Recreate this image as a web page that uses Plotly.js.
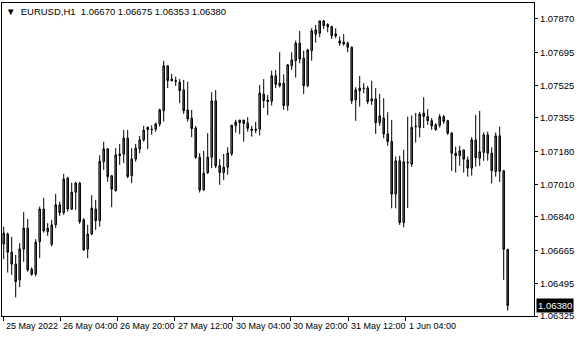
<!DOCTYPE html>
<html><head><meta charset="utf-8">
<script src="https://cdn.plot.ly/plotly-3.0.1.min.js"></script>
<style>html,body{margin:0;padding:0;background:#fff}#chart{width:580px;height:340px}</style>
</head><body><div id="chart"></div>
<script>
const symbolName = 'EURUSD,H1';
const openP = [1.06700,1.06751,1.06657,1.06595,1.06513,1.06673,1.06782,1.06568,1.06543,1.06712,
1.06881,1.06764,1.06698,1.06800,1.06903,1.06863,1.07042,1.06881,1.06969,1.07016,
1.06825,1.06673,1.06751,1.06881,1.06821,1.07128,1.07194,1.07054,1.06977,1.07159,
1.07167,1.07250,1.07055,1.07141,1.07194,1.07241,1.07307,1.07293,1.07297,1.07324,
1.07393,1.07626,1.07557,1.07549,1.07541,1.07501,1.07397,1.07354,1.07303,1.07151,
1.06981,1.07071,1.07151,1.07444,1.07107,1.07071,1.07099,1.07168,1.07316,1.07331,
1.07344,1.07328,1.07297,1.07291,1.07297,1.07479,1.07448,1.07442,1.07574,1.07523,
1.07536,1.07420,1.07627,1.07653,1.07744,1.07666,1.07523,1.07705,1.07791,1.07796,
1.07860,1.07841,1.07830,1.07792,1.07756,1.07749,1.07744,1.07723,1.07449,1.07497,
1.07510,1.07510,1.07454,1.07454,1.07331,1.07354,1.07272,1.07233,1.06959,1.07132,
1.06811,1.07125,1.07115,1.07310,1.07306,1.07380,1.07363,1.07341,1.07295,1.07317,
1.07362,1.07341,1.07276,1.07172,1.07159,1.07189,1.07137,1.07094,1.07241,1.07146,
1.07176,1.07267,1.07172,1.07077,1.07262,1.07080,1.06670];
const highP = [1.06790,1.06759,1.06737,1.06643,1.06704,1.06865,1.06830,1.06578,1.06725,1.06894,
1.06939,1.06808,1.06825,1.06960,1.06920,1.07064,1.07050,1.07019,1.07023,1.07023,
1.06834,1.06799,1.06953,1.06929,1.07161,1.07231,1.07199,1.07059,1.07198,1.07220,
1.07293,1.07293,1.07198,1.07220,1.07262,1.07314,1.07310,1.07317,1.07331,1.07404,
1.07652,1.07628,1.07584,1.07570,1.07557,1.07553,1.07544,1.07397,1.07314,1.07172,
1.07184,1.07276,1.07489,1.07501,1.07141,1.07168,1.07203,1.07319,1.07345,1.07345,
1.07345,1.07359,1.07314,1.07335,1.07527,1.07557,1.07475,1.07601,1.07604,1.07697,
1.07582,1.07636,1.07697,1.07757,1.07808,1.07705,1.07714,1.07822,1.07839,1.07860,
1.07865,1.07848,1.07835,1.07822,1.07778,1.07791,1.07752,1.07726,1.07515,1.07574,
1.07536,1.07522,1.07549,1.07510,1.07480,1.07458,1.07385,1.07345,1.07154,1.07158,
1.07189,1.07362,1.07368,1.07381,1.07387,1.07463,1.07401,1.07354,1.07328,1.07375,
1.07371,1.07345,1.07281,1.07206,1.07210,1.07189,1.07154,1.07255,1.07371,1.07392,
1.07280,1.07284,1.07202,1.07279,1.07310,1.07085,1.06675];
const lowP = [1.06621,1.06551,1.06539,1.06422,1.06475,1.06607,1.06555,1.06534,1.06531,1.06627,
1.06759,1.06742,1.06687,1.06783,1.06846,1.06851,1.06868,1.06877,1.06877,1.06804,
1.06664,1.06626,1.06745,1.06773,1.06790,1.07085,1.07023,1.06891,1.06972,1.07111,
1.07120,1.07042,1.07016,1.07128,1.07172,1.07232,1.07193,1.07267,1.07283,1.07310,
1.07336,1.07510,1.07544,1.07522,1.07432,1.07376,1.07336,1.07255,1.07142,1.06967,
1.06977,1.07064,1.07094,1.07094,1.07007,1.07033,1.07059,1.07158,1.07279,1.07271,
1.07232,1.07284,1.07258,1.07276,1.07264,1.07407,1.07370,1.07420,1.07510,1.07514,
1.07397,1.07393,1.07605,1.07565,1.07640,1.07479,1.07515,1.07653,1.07747,1.07775,
1.07818,1.07801,1.07766,1.07770,1.07731,1.07731,1.07697,1.07428,1.07340,1.07414,
1.07484,1.07427,1.07423,1.07272,1.07314,1.07249,1.07210,1.06885,1.06885,1.06799,
1.06786,1.06886,1.07101,1.07227,1.07254,1.07302,1.07319,1.07293,1.07288,1.07305,
1.07324,1.07267,1.07080,1.07071,1.07106,1.07071,1.07050,1.07055,1.07102,1.07106,
1.07132,1.07133,1.07014,1.07050,1.07022,1.06513,1.06353];
const closeP = [1.06756,1.06657,1.06595,1.06504,1.06674,1.06782,1.06565,1.06542,1.06709,1.06881,
1.06768,1.06782,1.06799,1.06903,1.06863,1.07037,1.06881,1.06969,1.07016,1.06816,
1.06669,1.06751,1.06886,1.06821,1.07130,1.07194,1.07050,1.06985,1.07163,1.07167,
1.07250,1.07050,1.07141,1.07198,1.07241,1.07291,1.07295,1.07296,1.07324,1.07397,
1.07626,1.07549,1.07549,1.07546,1.07497,1.07393,1.07350,1.07300,1.07151,1.06981,
1.07068,1.07151,1.07444,1.07106,1.07071,1.07099,1.07172,1.07317,1.07333,1.07344,
1.07327,1.07301,1.07291,1.07296,1.07484,1.07446,1.07441,1.07574,1.07530,1.07536,
1.07420,1.07631,1.07657,1.07744,1.07662,1.07523,1.07709,1.07808,1.07813,1.07860,
1.07835,1.07830,1.07783,1.07783,1.07744,1.07740,1.07723,1.07445,1.07501,1.07510,
1.07509,1.07440,1.07444,1.07331,1.07366,1.07272,1.07232,1.06959,1.07132,1.06811,
1.07127,1.07123,1.07306,1.07312,1.07375,1.07363,1.07341,1.07314,1.07319,1.07362,
1.07337,1.07276,1.07172,1.07159,1.07184,1.07141,1.07094,1.07241,1.07149,1.07179,
1.07267,1.07172,1.07081,1.07262,1.07078,1.06672,1.06380];
const priceTicks = [1.07870,1.07695,1.07525,1.07355,1.07180,1.07010,1.06840,1.06665,1.06495,1.06325];
const timeTickBar = [-0.1,14.1,28.4,42.8,57.2,71.6,86.1,100.5];
const timeTickText = ['25 May 2022','26 May 04:00','26 May 20:00','27 May 12:00','30 May 04:00','30 May 20:00','31 May 12:00','1 Jun 04:00'];

const barIndex = openP.map((_, i) => i);
const n = openP.length;
const f5 = v => v.toFixed(5);
const FONT = 'Liberation Sans, Arial, sans-serif';

const trace = {
  type: 'candlestick',
  x: barIndex, open: openP, high: highP, low: lowP, close: closeP,
  increasing: {line: {color: '#000', width: 1}, fillcolor: '#22b422'},
  decreasing: {line: {color: '#000', width: 1}, fillcolor: '#e01b1b'},
  whiskerwidth: 0,
  hoverinfo: 'skip',
  showlegend: false
};

const annotations = timeTickText.map((t, k) => ({
  xref: 'x', yref: 'paper', x: timeTickBar[k], y: 0,
  xanchor: 'left', yanchor: 'top', yshift: -3, xshift: 1,
  text: t, showarrow: false,
  font: {family: FONT, size: 9, color: '#000'}
}));
annotations.push({
  xref: 'paper', yref: 'paper', x: 0, y: 1, xanchor: 'left', yanchor: 'top',
  xshift: 2, yshift: -1, showarrow: false,
  text: '<span style="font-size:9.5px">\u25BC</span>\u00A0\u00A0' + symbolName + '\u00A0\u00A0' +
        [openP[n-1], highP[n-1], lowP[n-1], closeP[n-1]].map(f5).join('\u00A0'),
  font: {family: FONT, size: 9.5, color: '#000'}
});
annotations.push({
  xref: 'paper', yref: 'y', x: 1, y: closeP[n-1], xanchor: 'left', yanchor: 'middle',
  xshift: 2, showarrow: false, text: f5(closeP[n-1]), bgcolor: '#000', borderpad: 1,
  font: {family: FONT, size: 9.5, color: '#fff'}
});

const layout = {
  width: 580, height: 340,
  margin: {l: 2, r: 46, t: 3, b: 24, pad: 0},
  paper_bgcolor: '#fff', plot_bgcolor: '#fff',
  boxgap: 0.45,
  showlegend: false,
  xaxis: {
    range: [-0.425, 132.575], showgrid: false, zeroline: false,
    showline: true, mirror: true, linecolor: '#000', linewidth: 1,
    ticks: 'outside', ticklen: 4, tickcolor: '#000', tickwidth: 1,
    tickmode: 'array', tickvals: timeTickBar, showticklabels: false,
    rangeslider: {visible: false}, fixedrange: true
  },
  yaxis: {
    side: 'right', range: [1.06325, 1.07953], showgrid: false, zeroline: false,
    showline: true, mirror: true, linecolor: '#000', linewidth: 1,
    ticks: 'outside', ticklen: 3, tickcolor: '#000',
    tickmode: 'array', tickvals: priceTicks, ticktext: priceTicks.map(f5),
    tickfont: {family: FONT, size: 9.5, color: '#000'}, fixedrange: true
  },
  annotations: annotations
};

Plotly.newPlot('chart', [trace], layout, {displayModeBar: false, staticPlot: true});
</script></body></html>
